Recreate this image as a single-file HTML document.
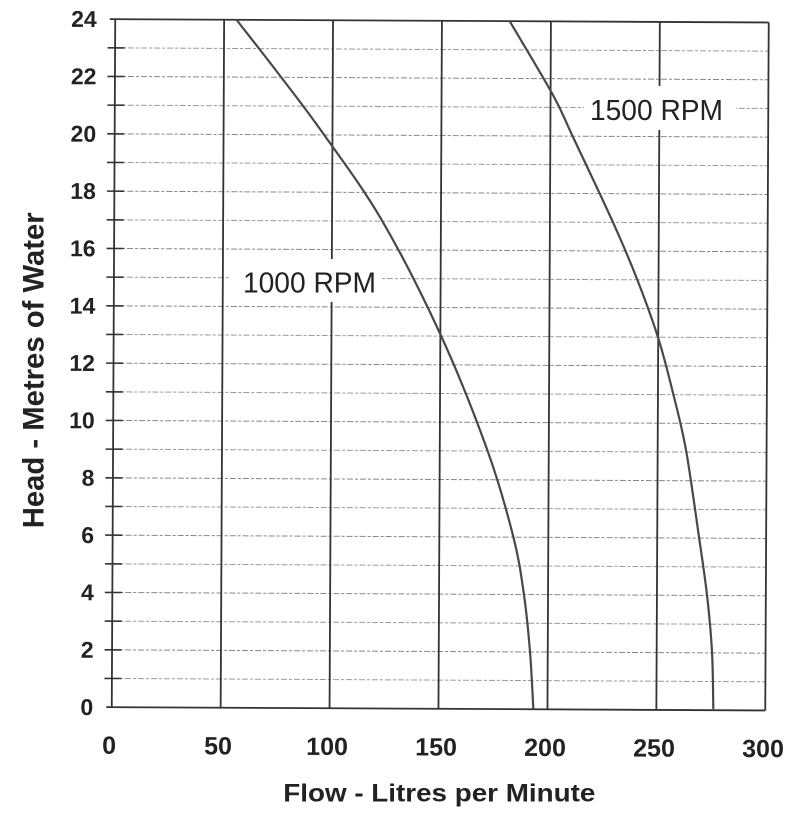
<!DOCTYPE html>
<html>
<head>
<meta charset="utf-8">
<style>
  html,body{margin:0;padding:0;background:#fff;}
  svg{display:block;}
  text{font-family:"Liberation Sans", Arial, sans-serif;fill:#222;}
  .b{font-weight:bold;}
</style>
</head>
<body>
<svg width="805" height="816" viewBox="0 0 805 816" xmlns="http://www.w3.org/2000/svg">
  <rect x="0" y="0" width="805" height="816" fill="#fff"/>
  <g transform="rotate(0.29 439 364)">
    <!-- horizontal minor grid -->
    <g stroke="#9a9a9a" stroke-width="1" stroke-dasharray="6 2 3 2">
      <line x1="113.5" x2="767" y1="680.1" y2="680.1"/>
      <line x1="113.5" x2="767" y1="651.5" y2="651.5" stroke="#888"/>
      <line x1="113.5" x2="767" y1="622.8" y2="622.8"/>
      <line x1="113.5" x2="767" y1="594.1" y2="594.1" stroke="#888"/>
      <line x1="113.5" x2="767" y1="565.5" y2="565.5"/>
      <line x1="113.5" x2="767" y1="536.8" y2="536.8" stroke="#888"/>
      <line x1="113.5" x2="767" y1="508.1" y2="508.1"/>
      <line x1="113.5" x2="767" y1="479.5" y2="479.5" stroke="#888"/>
      <line x1="113.5" x2="767" y1="450.8" y2="450.8"/>
      <line x1="113.5" x2="767" y1="422.1" y2="422.1" stroke="#888"/>
      <line x1="113.5" x2="767" y1="393.5" y2="393.5"/>
      <line x1="113.5" x2="767" y1="364.8" y2="364.8" stroke="#888"/>
      <line x1="113.5" x2="767" y1="336.1" y2="336.1"/>
      <line x1="113.5" x2="767" y1="307.5" y2="307.5" stroke="#888"/>
      <line x1="113.5" x2="767" y1="278.8" y2="278.8"/>
      <line x1="113.5" x2="767" y1="250.1" y2="250.1" stroke="#888"/>
      <line x1="113.5" x2="767" y1="221.5" y2="221.5"/>
      <line x1="113.5" x2="767" y1="192.8" y2="192.8" stroke="#888"/>
      <line x1="113.5" x2="767" y1="164.1" y2="164.1"/>
      <line x1="113.5" x2="767" y1="135.5" y2="135.5" stroke="#888"/>
      <line x1="113.5" x2="767" y1="106.8" y2="106.8"/>
      <line x1="113.5" x2="767" y1="78.1" y2="78.1" stroke="#888"/>
      <line x1="113.5" x2="767" y1="49.5" y2="49.5"/>
    </g>
    <!-- vertical lines -->
    <g stroke="#333" stroke-width="1.8">
      <line x1="222.4" x2="222.4" y1="20.8" y2="708.8"/>
      <line x1="331.3" x2="331.3" y1="20.8" y2="708.8"/>
      <line x1="440.2" x2="440.2" y1="20.8" y2="708.8"/>
      <line x1="549.2" x2="549.2" y1="20.8" y2="708.8"/>
      <line x1="658.1" x2="658.1" y1="20.8" y2="708.8"/>
      <line x1="767" x2="767" y1="20.8" y2="708.8"/>
      <line x1="113.5" x2="113.5" y1="20.8" y2="708.8"/>
      <line x1="108" x2="767" y1="20.8" y2="20.8"/>
      <line x1="108" x2="767" y1="708.8" y2="708.8"/>
    </g>
    <!-- ticks -->
    <g stroke="#333" stroke-width="1.6">
      <line x1="106" x2="123" y1="680.1" y2="680.1"/>
      <line x1="106" x2="123" y1="651.5" y2="651.5"/>
      <line x1="106" x2="123" y1="622.8" y2="622.8"/>
      <line x1="106" x2="123" y1="594.1" y2="594.1"/>
      <line x1="106" x2="123" y1="565.5" y2="565.5"/>
      <line x1="106" x2="123" y1="536.8" y2="536.8"/>
      <line x1="106" x2="123" y1="508.1" y2="508.1"/>
      <line x1="106" x2="123" y1="479.5" y2="479.5"/>
      <line x1="106" x2="123" y1="450.8" y2="450.8"/>
      <line x1="106" x2="123" y1="422.1" y2="422.1"/>
      <line x1="106" x2="123" y1="393.5" y2="393.5"/>
      <line x1="106" x2="123" y1="364.8" y2="364.8"/>
      <line x1="106" x2="123" y1="336.1" y2="336.1"/>
      <line x1="106" x2="123" y1="307.5" y2="307.5"/>
      <line x1="106" x2="123" y1="278.8" y2="278.8"/>
      <line x1="106" x2="123" y1="250.1" y2="250.1"/>
      <line x1="106" x2="123" y1="221.5" y2="221.5"/>
      <line x1="106" x2="123" y1="192.8" y2="192.8"/>
      <line x1="106" x2="123" y1="164.1" y2="164.1"/>
      <line x1="106" x2="123" y1="135.5" y2="135.5"/>
      <line x1="106" x2="123" y1="106.8" y2="106.8"/>
      <line x1="106" x2="123" y1="78.1" y2="78.1"/>
      <line x1="106" x2="123" y1="49.5" y2="49.5"/>
    </g>
    <!-- y tick labels -->
    <g class="b" font-size="23" text-anchor="end">
      <text x="95" y="716.8">0</text>
      <text x="95" y="659.5">2</text>
      <text x="95" y="602.1">4</text>
      <text x="95" y="544.8">6</text>
      <text x="95" y="487.5">8</text>
      <text x="95" y="430.1">10</text>
      <text x="95" y="372.8">12</text>
      <text x="95" y="315.5">14</text>
      <text x="95" y="258.1">16</text>
      <text x="95" y="200.8">18</text>
      <text x="95" y="143.5">20</text>
      <text x="95" y="86.1">22</text>
      <text x="95" y="28.8">24</text>
    </g>
    <!-- x tick labels -->
    <g class="b" font-size="25" text-anchor="middle">
      <text x="111" y="755.5">0</text>
      <text x="220" y="755.5">50</text>
      <text x="329" y="755.5">100</text>
      <text x="438" y="755.5">150</text>
      <text x="547" y="755.5">200</text>
      <text x="656" y="755.5">250</text>
      <text x="765" y="755.5">300</text>
    </g>
  </g>

  <!-- curves -->
  <g fill="none" stroke="#484848" stroke-width="2.2" stroke-linejoin="round" stroke-linecap="round">
    <path d="M236.7,20 C244.08,29.5 266.62,58.12 281,77 C295.38,95.88 306.22,109.47 323,133.3 C339.78,157.13 362.08,186.38 381.7,220 C401.32,253.62 423.1,296.67 440.7,335 C458.3,373.33 475.2,416.38 487.3,450 C499.4,483.62 507.18,512.53 513.3,536.7 C519.42,560.87 521.22,575.83 524,595 C526.78,614.17 528.45,632.82 530,651.7 C531.55,670.58 532.75,698.87 533.3,708.3"/>
    <path d="M510,21.7 C517.17,33.92 542.5,75.78 553,95 C563.5,114.22 563.05,115.88 573,137 C582.95,158.12 602.03,198.03 612.7,221.7 C623.37,245.37 629.4,259.57 637,279 C644.6,298.43 652.3,319.3 658.3,338.3 C664.3,357.3 668.38,374.38 673,393 C677.62,411.62 681.67,426 686,450 C690.33,474 695.5,512.83 699,537 C702.5,561.17 704.83,575.88 707,595 C709.17,614.12 710.95,632.82 712,651.7 C713.05,670.58 713.08,698.87 713.3,708.3"/>
  </g>

  <!-- curve labels -->
  <rect x="230" y="259" width="152" height="43" fill="#fff"/>
  <text x="243" y="292.3" font-size="29" textLength="133" lengthAdjust="spacingAndGlyphs">1000 RPM</text>
  <rect x="584" y="86" width="152" height="44" fill="#fff"/>
  <text x="590" y="120" font-size="29" textLength="133" lengthAdjust="spacingAndGlyphs">1500 RPM</text>

  <!-- axis titles -->
  <text class="b" x="283.3" y="801.7" font-size="25" textLength="312" lengthAdjust="spacingAndGlyphs">Flow - Litres per Minute</text>
  <text class="b" transform="translate(43.3 528.3) rotate(-90)" x="0" y="0" font-size="30" textLength="316" lengthAdjust="spacingAndGlyphs">Head - Metres of Water</text>
</svg>
</body>
</html>
